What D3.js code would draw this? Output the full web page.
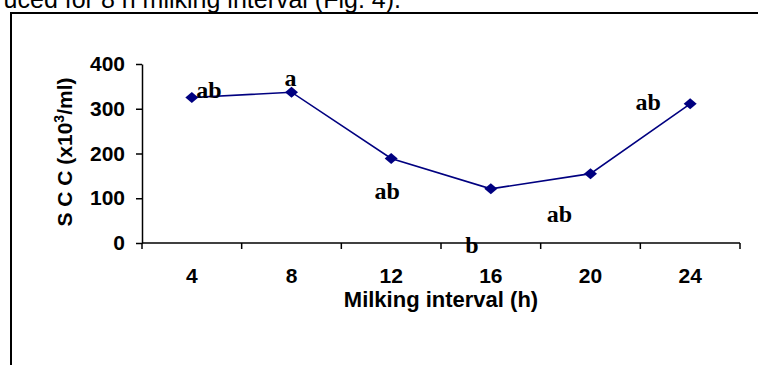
<!DOCTYPE html>
<html>
<head>
<meta charset="utf-8">
<script src="https://cdn.jsdelivr.net/npm/d3@7"></script>
<style>
  body { margin: 0; background: #fff; }
  svg { display: block; }
</style>
</head>
<body>
<svg id="chart" width="758" height="365"></svg>
<script>
// milking interval categories (h)
const intervals = ["4", "8", "12", "16", "20", "24"]
// somatic cell count (x10^3/ml)
const scc = [325, 337, 189, 121, 155, 311]
// significance letters
const letters = ["ab", "a", "ab", "b", "ab", "ab"]
const yTicks = [0, 100, 200, 300, 400]

const width = 758,
    height = 365
const navy = "#000080"

const svg = d3.select("#chart")

// caption line from the page, cut at the top
svg.append("text")
    .attr("x", 401)
    .attr("y", 8)
    .attr("text-anchor", "end")
    .style("font-family", "Liberation Sans, Arial, sans-serif")
    .style("font-size", "25px")
    .text("uced for 8 h milking interval (Fig. 4).")

// frame around the chart
svg.append("rect")
    .attr("x", 11)
    .attr("y", 13)
    .attr("width", 800)
    .attr("height", 400)
    .attr("fill", "none")
    .attr("stroke", "#000")
    .attr("stroke-width", 2)

const x = d3.scaleBand()
    .domain(intervals)
    .range([142, 740])

const y = d3.scaleLinear()
    .domain([0, 400])
    .range([243, 64])

const axisFont = g => g.selectAll("text")
    .style("font-family", "Liberation Sans, Arial, sans-serif")
    .style("font-weight", "bold")
    .style("font-size", "21px")
    .attr("fill", "#000")

// y axis
const gy = svg.append("g")
    .attr("transform", "translate(142,0)")
    .call(d3.axisLeft(y).tickValues(yTicks).tickSize(6).tickPadding(11).tickSizeOuter(0))
gy.call(axisFont)
gy.selectAll("path, line").attr("stroke", "#000").attr("stroke-width", 1.5)

// x axis, ticks sit between the categories
const gx = svg.append("g")
    .attr("transform", "translate(0,243)")
    .call(d3.axisBottom(x).tickSize(0).tickPadding(25))
gx.call(axisFont)
gx.selectAll("path, line").attr("stroke", "#000").attr("stroke-width", 1.5)
gx.select("path.domain").attr("d", "M142,0H740")
gx.selectAll(".sep")
    .data(intervals.concat(["end"]))
    .enter()
    .append("line")
    .attr("class", "sep")
    .attr("x1", (d, i) => i < intervals.length ? x(d) : x.range()[1])
    .attr("x2", (d, i) => i < intervals.length ? x(d) : x.range()[1])
    .attr("y1", 0)
    .attr("y2", 6)
    .attr("stroke", "#000")
    .attr("stroke-width", 1.5)

// axis titles
svg.append("text")
    .attr("x", 441)
    .attr("y", 307)
    .attr("text-anchor", "middle")
    .style("font-family", "Liberation Sans, Arial, sans-serif")
    .style("font-weight", "bold")
    .style("font-size", "22px")
    .text("Milking interval (h)")

const yTitle = svg.append("text")
    .attr("transform", "translate(72,152) rotate(-90)")
    .attr("text-anchor", "middle")
    .style("font-family", "Liberation Sans, Arial, sans-serif")
    .style("font-weight", "bold")
    .style("font-size", "21px")
yTitle.append("tspan").text("S C C (x10")
yTitle.append("tspan").attr("dy", -8).style("font-size", "14px").text("3")
yTitle.append("tspan").attr("dy", 8).text("/ml)")

const px = i => x(intervals[i]) + x.bandwidth() / 2

// line
const line = d3.line()
    .x((d, i) => px(i))
    .y(d => y(d))
svg.append("path")
    .datum(scc)
    .attr("d", line)
    .attr("fill", "none")
    .attr("stroke", navy)
    .attr("stroke-width", 1.6)

// diamond markers
svg.append("g")
    .selectAll("polygon")
    .data(scc)
    .enter()
    .append("polygon")
    .attr("points", (d, i) => {
        const cx = px(i), cy = y(d)
        return `${cx - 6.5},${cy} ${cx},${cy - 5.5} ${cx + 6.5},${cy} ${cx},${cy + 5.5}`
    })
    .attr("fill", navy)

// significance letters, nudged like in the original figure
const letterShift = [[17, 0], [-1, -6], [-4, 41], [-19, 64], [-31, 48], [-42, 6]]
svg.append("g")
    .selectAll("text")
    .data(letters)
    .enter()
    .append("text")
    .attr("x", (d, i) => px(i) + letterShift[i][0])
    .attr("y", (d, i) => y(scc[i]) + letterShift[i][1])
    .attr("text-anchor", "middle")
    .style("font-family", "Liberation Serif, Times New Roman, serif")
    .style("font-weight", "bold")
    .style("font-size", "24px")
    .text(d => d)
</script>
</body>
</html>
